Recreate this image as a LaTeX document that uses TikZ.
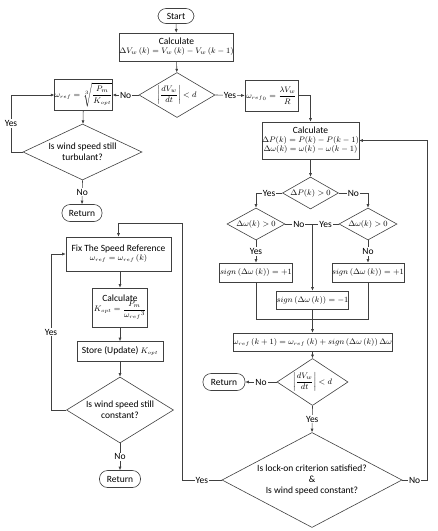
\documentclass[tikz,border=0pt]{standalone}
\usepackage{amsmath}
\usepackage{fontspec}
\setmainfont{Carlito}
\usetikzlibrary{shapes.geometric,arrows.meta}
\newcommand{\mth}[1]{{\fontsize{8.3}{9.5}\selectfont$#1$}}
\newcommand{\rf}{{\scriptscriptstyle ref}}
\newcommand{\opt}{{\scriptscriptstyle opt}}
\begin{document}
\begin{tikzpicture}[x=1pt,y=-1pt,
  font=\fontsize{9.5}{11}\selectfont,
  line width=0.6pt, color=black!75,
  every node/.append style={text=black},
  box/.style={draw, rectangle, inner sep=0pt, align=center},
  term/.style={draw, rectangle, rounded corners=8pt, inner sep=0pt, minimum height=17pt, align=center},
  dia/.style={draw, diamond, inner sep=0pt, align=center},
  lbl/.style={fill=white, inner sep=1pt},
  arr/.style={-{Latex[length=3.5pt,width=3pt]}}
]
\useasboundingbox (0,0) rectangle (438,531);

% central top
\node[term, minimum width=36pt, minimum height=15pt] (start) at (176,16) {Start};
\node[box, minimum width=105pt, minimum height=28pt] (calc1) at (176.5,47)
  {Calculate\\[-2pt] \mth{\Delta V_w\left(k\right)=V_w\left(k\right)-V_w\left(k-1\right)}};
\node[dia, minimum width=76pt, minimum height=45pt, aspect=1.7] (d1) at (177,95)
  {\mth{\left|\dfrac{dV_w}{dt}\right|<d}};

% left upper
\node[box, minimum width=57pt, minimum height=31pt] (wref) at (83.5,95)
  {\mth{\omega_\rf=\sqrt[3]{\dfrac{P_m}{K_\opt}}}};
\node[dia, minimum width=119pt, minimum height=56pt, aspect=2.1] (d2) at (82.5,152)
  {Is wind speed still\\turbulant?};
\node[term, minimum width=40pt] (ret1) at (82,213) {Return};

% right column
\node[box, minimum width=53pt, minimum height=31pt] (wref0) at (271.5,95.5)
  {\mth{\omega_{\rf_0}=\dfrac{\lambda V_w}{R}}};
\node[box, minimum width=95pt, minimum height=37pt] (calc2) at (310.5,140.5)
  {Calculate\\[-2pt] \mth{\Delta P(k)=P(k)-P(k-1)}\\[-2pt] \mth{\Delta\omega(k)=\omega(k)-\omega(k-1)}};
\node[dia, minimum width=56pt, minimum height=32pt, aspect=1.75] (dP) at (310.5,193)
  {\mth{\Delta P(k)>0}};
\node[dia, minimum width=58pt, minimum height=32pt, aspect=1.8] (dwL) at (256,224)
  {\mth{\Delta\omega(k)>0}};
\node[dia, minimum width=58pt, minimum height=32pt, aspect=1.8] (dwR) at (368,224)
  {\mth{\Delta\omega(k)>0}};
\coordinate (j1) at (312.5,224);
\node[box, minimum width=73pt, minimum height=19pt] (sL) at (256,272.5)
  {\mth{sign\left(\Delta\omega\left(k\right)\right)=+1}};
\node[box, minimum width=71pt, minimum height=19pt] (sR) at (368,272.5)
  {\mth{sign\left(\Delta\omega\left(k\right)\right)=+1}};
\node[box, minimum width=72pt, minimum height=18pt] (sM) at (312.5,300)
  {\mth{sign\left(\Delta\omega\left(k\right)\right)=-1}};
\coordinate (m) at (312.5,319);
\node[box, minimum width=155pt, minimum height=18pt] (upd) at (312.5,342)
  {\mth{\omega_\rf\left(k+1\right)=\omega_\rf\left(k\right)+sign\left(\Delta\omega\left(k\right)\right)\Delta\omega}};
\node[dia, minimum width=71pt, minimum height=47pt, aspect=1.5] (d3) at (312.5,382)
  {\mth{\left|\dfrac{dV_w}{dt}\right|<d}};
\node[term, minimum width=42pt] (ret2) at (224,382) {Return};
\node[dia, minimum width=180pt, minimum height=95pt, aspect=1.9] (d4) at (312,480)
  {Is lock-on criterion satisfied?\\\&\\Is wind speed constant?};

% left lower column
\node[box, minimum width=105pt, minimum height=34pt] (fix) at (118.5,254)
  {Fix The Speed Reference\\[-2pt] \mth{\omega_\rf=\omega_\rf\left(k\right)}};
\node[box, minimum width=55pt, minimum height=39pt] (calcK) at (120,307.5)
  {Calculate\\[-2pt] \mth{K_\opt=\dfrac{P_m}{{\omega_\rf}^{3}}}};
\node[box, minimum width=86pt, minimum height=20pt] (store) at (120,351.5)
  {Store (Update) \mth{K_\opt}};
\node[dia, minimum width=107pt, minimum height=66pt, aspect=1.9] (d5) at (120,410)
  {Is wind speed still\\constant?};
\node[term, minimum width=41pt] (ret3) at (120,479) {Return};

% connectors
\draw[arr] (start) -- (calc1);
\draw[arr] (calc1) -- (d1);
\draw[arr] (d1.west) -- node[lbl]{No} (wref.east);
\draw[arr] (d1.east) -- node[lbl]{Yes} (wref0.west);
\draw[arr] (wref) -- (d2);
\draw[arr] (d2.west) -- (11,152) -- node[lbl]{Yes} (11,95) -- (wref.west);
\draw[arr] (d2.south) -- node[lbl]{No} (ret1.north);

\draw[arr] (wref0.east) -| (calc2.north);
\draw[arr] (calc2) -- (dP);
\draw[arr] (dP.west) -- node[lbl]{Yes} (dwL.north |- dP.west) -- (dwL.north);
\draw[arr] (dP.east) -- node[lbl]{No} (dwR.north |- dP.east) -- (dwR.north);
\draw[arr] (dwL.south) -- node[lbl]{Yes} (sL.north);
\draw[arr] (dwR.south) -- node[lbl]{No} (sR.north);
\draw (dwL.east) -- node[lbl]{No} (j1);
\draw (dwR.west) -- node[lbl]{Yes} (j1);
\draw[arr] (j1) -- (sM.north);
\draw (sL.south) -- (sL.south |- m) -- (sR.south |- m) -- (sR.south);
\draw[arr] (sM.south) -- (upd.north);
\draw[arr] (upd) -- (d3);
\draw[arr] (d3.west) -- node[lbl]{No} (ret2.east);
\draw[arr] (d3.south) -- node[lbl]{Yes} (d4.north);
\draw[arr] (d4.east) -- node[lbl]{No} (427,480) -- (427,140.5) -- (calc2.east);
\draw[arr] (d4.west) -- node[lbl]{Yes} (182,480) -- (182,223) -- (fix.north |- 0,223) -- (fix.north);

\draw[arr] (fix.south -| calcK.north) -- (calcK.north);
\draw[arr] (calcK) -- (store);
\draw[arr] (store) -- (d5);
\draw[arr] (d5.west) -- (51,410) -- node[lbl]{Yes} (51,254) -- (fix.west);
\draw[arr] (d5.south) -- node[lbl]{No} (ret3.north);
\end{tikzpicture}
\end{document}
